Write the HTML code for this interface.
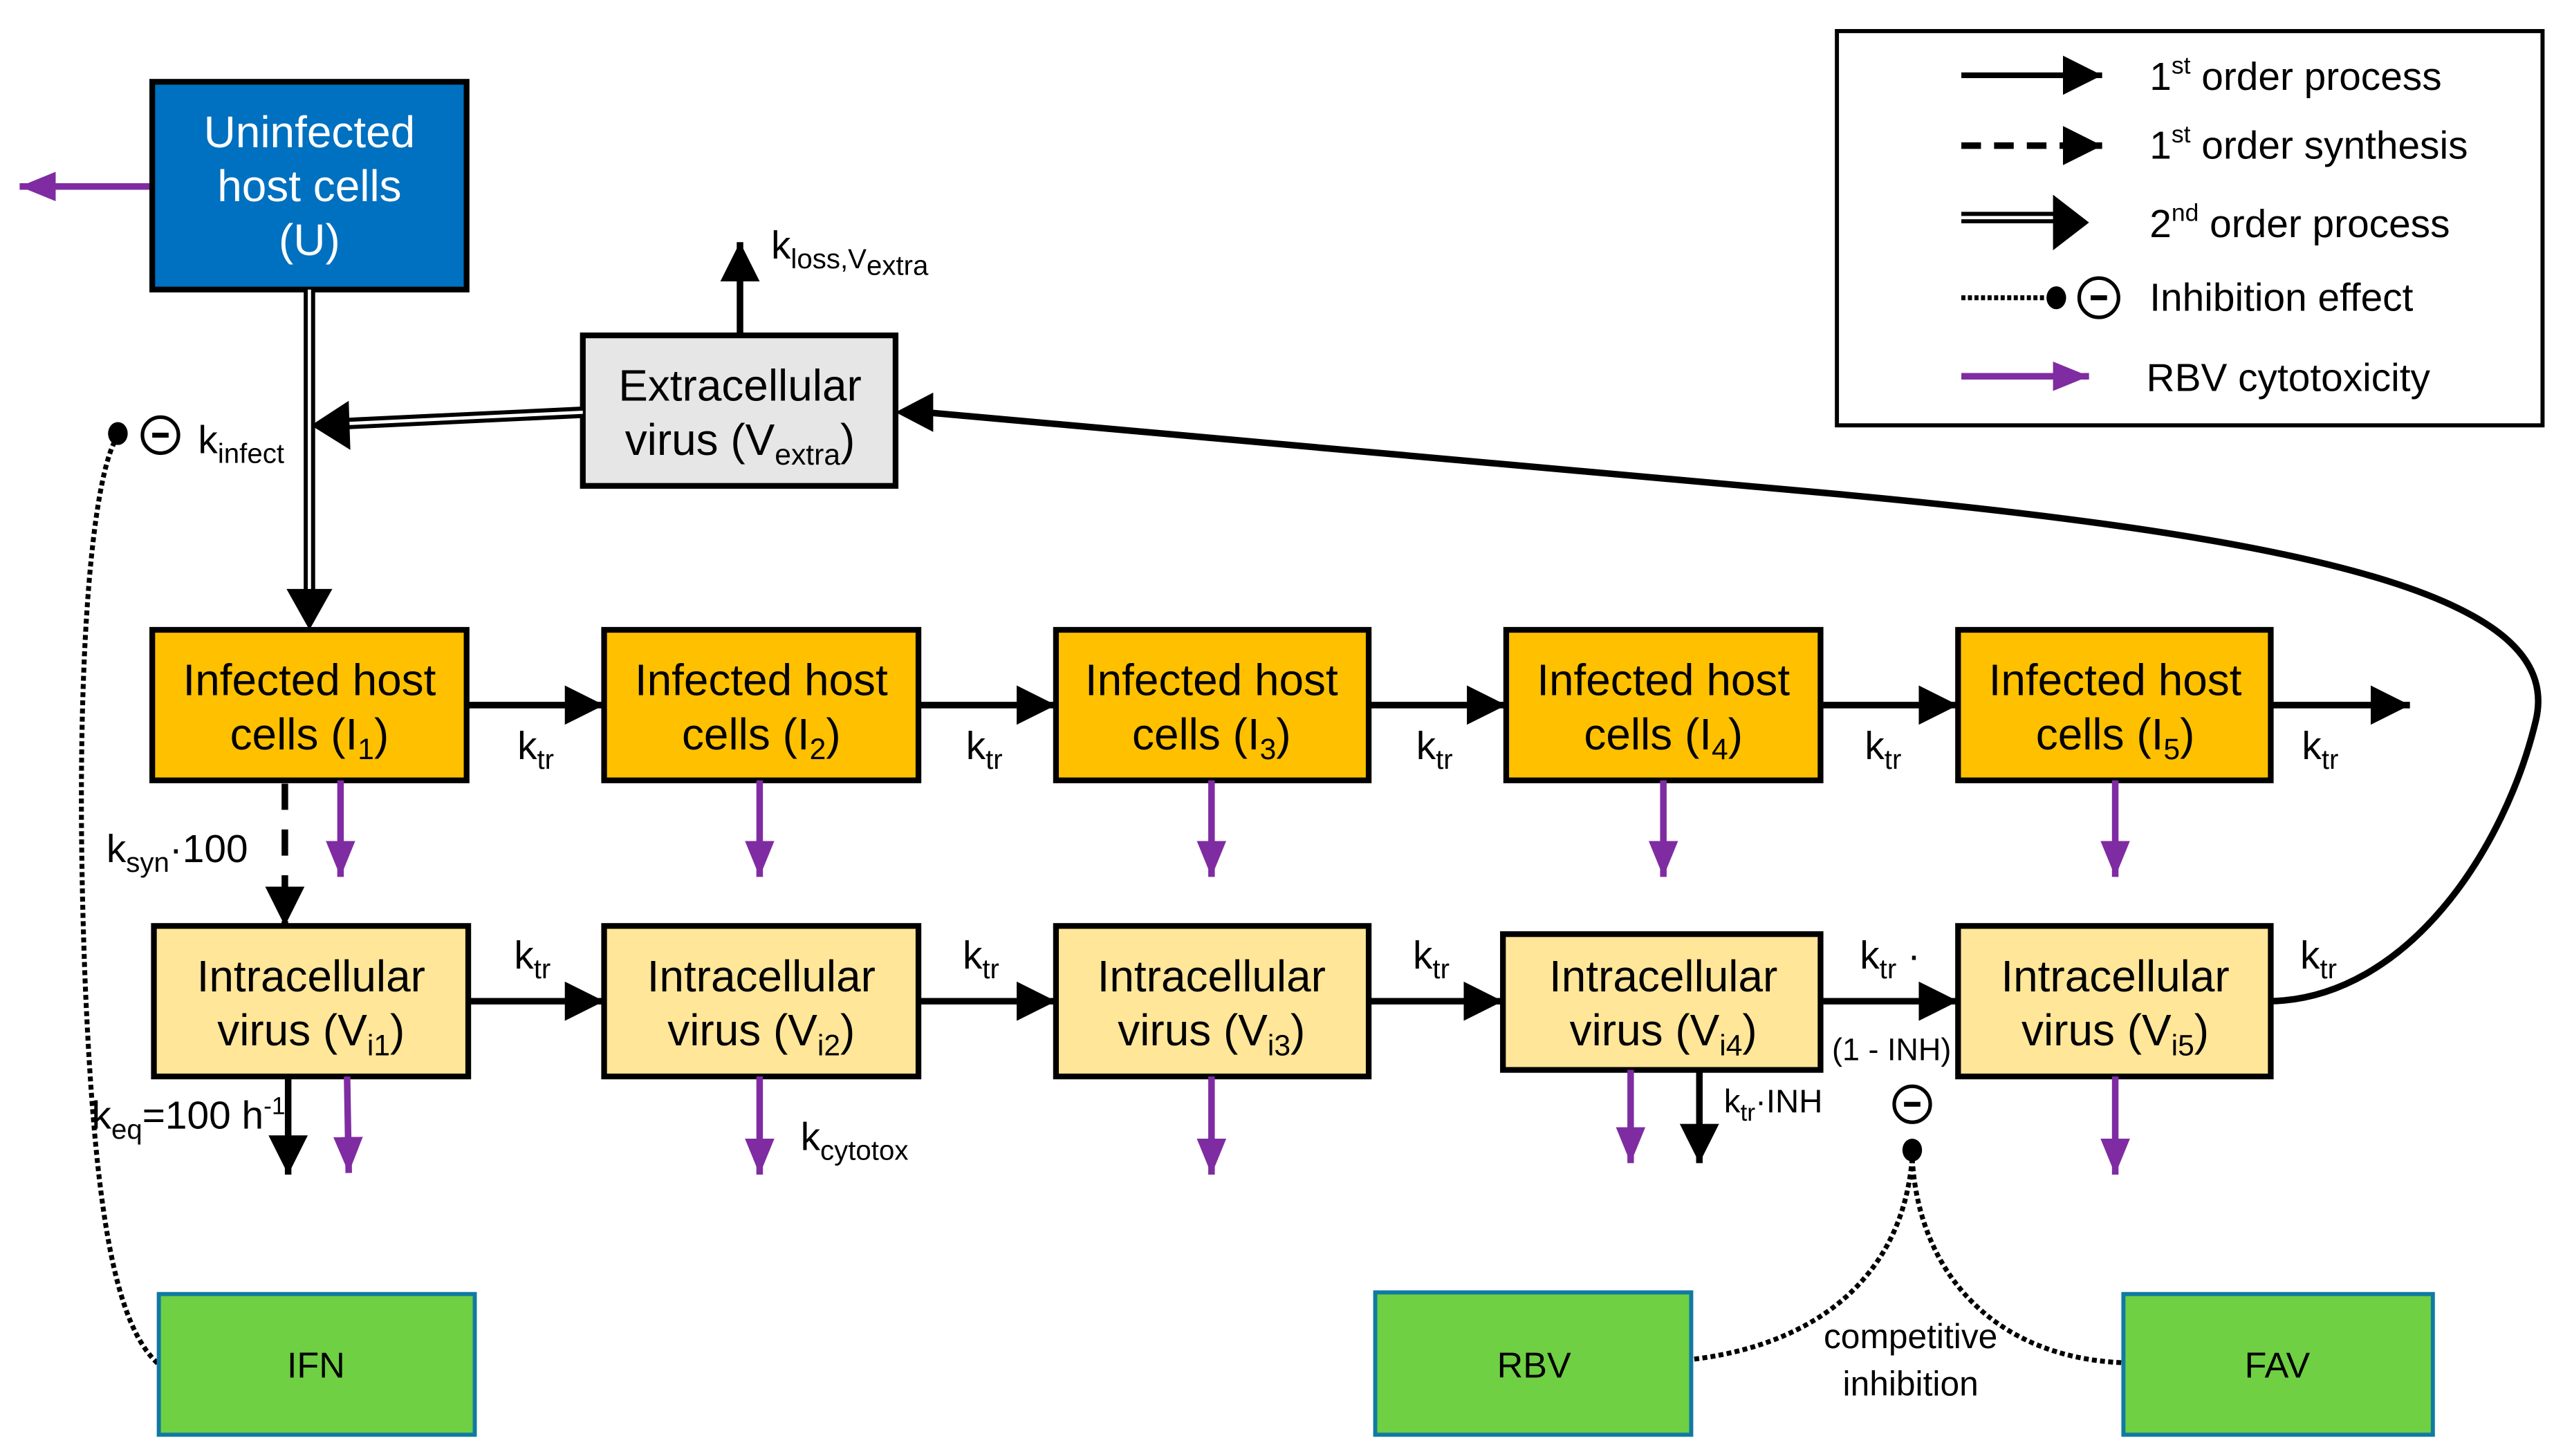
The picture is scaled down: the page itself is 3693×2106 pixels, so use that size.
<!DOCTYPE html>
<html><head><meta charset="utf-8"><style>
html,body{margin:0;padding:0;background:#fff;}
svg{display:block;}
text{font-family:"Liberation Sans Narrow","Liberation Sans",sans-serif;fill:#000;}
</style></head><body>
<svg width="3693" height="2106" viewBox="0 0 1560 890" preserveAspectRatio="none" xmlns="http://www.w3.org/2000/svg">
<defs>
<marker id="ab" markerUnits="userSpaceOnUse" markerWidth="26" markerHeight="24" refX="24" refY="12" orient="auto"><path d="M0,0 L24,12 L0,24 Z" fill="#000"/></marker>
<marker id="ap" markerUnits="userSpaceOnUse" markerWidth="24" markerHeight="20" refX="22" refY="10" orient="auto"><path d="M0,1 L22,10 L0,19 Z" fill="#7F2CA2"/></marker>
</defs>
<rect width="1560" height="890" fill="#fff"/>

<!-- Legend -->
<rect x="1122" y="19" width="431" height="241" fill="#fff" stroke="#000" stroke-width="2.5"/>
<line x1="1198" y1="46" x2="1284" y2="46" stroke="#000" stroke-width="3.5" marker-end="url(#ab)"/>
<line x1="1198" y1="89" x2="1284" y2="89" stroke="#000" stroke-width="4" stroke-dasharray="12,8" marker-end="url(#ab)"/>
<line x1="1198" y1="133" x2="1258" y2="133" stroke="#000" stroke-width="7"/>
<line x1="1198" y1="133" x2="1258" y2="133" stroke="#fff" stroke-width="2"/>
<path d="M1254,119 L1276,136 L1254,153 Z" fill="#000"/>
<line x1="1198" y1="182" x2="1250" y2="182" stroke="#000" stroke-width="3" stroke-dasharray="2.5,1.5"/>
<ellipse cx="1256" cy="182" rx="6" ry="7" fill="#000"/>
<ellipse cx="1282" cy="182" rx="12" ry="12" fill="none" stroke="#000" stroke-width="2.2"/>
<line x1="1277" y1="182" x2="1287" y2="182" stroke="#000" stroke-width="3"/>
<line x1="1198" y1="230" x2="1276" y2="230" stroke="#7F2CA2" stroke-width="4" marker-end="url(#ap)"/>
<text x="1313" y="55" font-size="24">1<tspan font-size="15" dy="-10">st</tspan><tspan dy="10"> order process</tspan></text>
<text x="1313" y="97" font-size="24">1<tspan font-size="15" dy="-10">st</tspan><tspan dy="10"> order synthesis</tspan></text>
<text x="1313" y="145" font-size="24">2<tspan font-size="15" dy="-10">nd</tspan><tspan dy="10"> order process</tspan></text>
<text x="1313" y="190" font-size="24">Inhibition effect</text>
<text x="1311" y="239" font-size="24">RBV cytotoxicity</text>

<!-- Uninfected -->
<line x1="93" y1="114" x2="12" y2="114" stroke="#7F2CA2" stroke-width="4" marker-end="url(#ap)"/>
<rect x="93" y="50" width="192" height="127" fill="#0070C0" stroke="#000" stroke-width="3.5"/>
<text x="189" y="90" font-size="27" text-anchor="middle" style="fill:#fff">Uninfected</text>
<text x="189" y="123" font-size="27" text-anchor="middle" style="fill:#fff">host cells</text>
<text x="189" y="156" font-size="27" text-anchor="middle" style="fill:#fff">(U)</text>

<!-- Extracellular -->
<line x1="452" y1="205" x2="452" y2="148" stroke="#000" stroke-width="4" marker-end="url(#ab)"/>
<text x="471" y="158" font-size="24">k<tspan font-size="17" dy="6">loss,V</tspan><tspan font-size="17" dy="4">extra</tspan></text>
<rect x="356" y="205" width="191" height="92" fill="#E7E6E6" stroke="#000" stroke-width="3.5"/>
<text x="452" y="245" font-size="27" text-anchor="middle">Extracellular</text>
<text x="452" y="278" font-size="27" text-anchor="middle">virus (V<tspan font-size="18" dy="6">extra</tspan><tspan dy="-6">)</tspan></text>

<!-- double lines -->
<line x1="189" y1="177" x2="189" y2="362" stroke="#000" stroke-width="7"/>
<line x1="189" y1="177" x2="189" y2="362" stroke="#fff" stroke-width="2"/>
<path d="M175,360 L203,360 L189,385 Z" fill="#000"/>
<line x1="356" y1="252" x2="210" y2="259" stroke="#000" stroke-width="7"/>
<line x1="356" y1="252" x2="210" y2="259" stroke="#fff" stroke-width="2"/>
<path d="M213,245 L214,275 L190,260 Z" fill="#000"/>
<text x="121" y="277" font-size="24">k<tspan font-size="17" dy="6">infect</tspan></text>
<circle cx="98" cy="266" r="11" fill="none" stroke="#000" stroke-width="2.2"/>
<line x1="93" y1="266" x2="103" y2="266" stroke="#000" stroke-width="3"/>
<ellipse cx="72" cy="265" rx="6" ry="7" fill="#000"/>
<path d="M70,270 C55,300 45,420 52,600 C58,740 70,810 97,834" fill="none" stroke="#000" stroke-width="3" stroke-dasharray="3,2"/>

<!-- Infected row -->
<g stroke="#000" stroke-width="3.5" fill="#FFC000">
<rect x="93" y="385" width="192" height="92"/>
<rect x="369" y="385" width="192" height="92"/>
<rect x="645" y="385" width="191" height="92"/>
<rect x="920" y="385" width="192" height="92"/>
<rect x="1196" y="385" width="191" height="92"/>
</g>
<g font-size="27" text-anchor="middle">
<text x="189" y="425">Infected host</text><text x="189" y="458">cells (I<tspan font-size="18" dy="6">1</tspan><tspan dy="-6">)</tspan></text>
<text x="465" y="425">Infected host</text><text x="465" y="458">cells (I<tspan font-size="18" dy="6">2</tspan><tspan dy="-6">)</tspan></text>
<text x="740" y="425">Infected host</text><text x="740" y="458">cells (I<tspan font-size="18" dy="6">3</tspan><tspan dy="-6">)</tspan></text>
<text x="1016" y="425">Infected host</text><text x="1016" y="458">cells (I<tspan font-size="18" dy="6">4</tspan><tspan dy="-6">)</tspan></text>
<text x="1292" y="425">Infected host</text><text x="1292" y="458">cells (I<tspan font-size="18" dy="6">5</tspan><tspan dy="-6">)</tspan></text>
</g>
<g stroke="#000" stroke-width="4">
<line x1="285" y1="431" x2="369" y2="431" marker-end="url(#ab)"/>
<line x1="561" y1="431" x2="645" y2="431" marker-end="url(#ab)"/>
<line x1="836" y1="431" x2="920" y2="431" marker-end="url(#ab)"/>
<line x1="1112" y1="431" x2="1196" y2="431" marker-end="url(#ab)"/>
<line x1="1387" y1="431" x2="1472" y2="431" marker-end="url(#ab)"/>
</g>
<g font-size="24">
<text x="316" y="464">k<tspan font-size="17" dy="6">tr</tspan></text>
<text x="590" y="464">k<tspan font-size="17" dy="6">tr</tspan></text>
<text x="865" y="464">k<tspan font-size="17" dy="6">tr</tspan></text>
<text x="1139" y="464">k<tspan font-size="17" dy="6">tr</tspan></text>
<text x="1406" y="464">k<tspan font-size="17" dy="6">tr</tspan></text>
</g>
<g stroke="#7F2CA2" stroke-width="4">
<line x1="208" y1="477" x2="208" y2="536" marker-end="url(#ap)"/>
<line x1="464" y1="477" x2="464" y2="536" marker-end="url(#ap)"/>
<line x1="740" y1="477" x2="740" y2="536" marker-end="url(#ap)"/>
<line x1="1016" y1="477" x2="1016" y2="536" marker-end="url(#ap)"/>
<line x1="1292" y1="477" x2="1292" y2="536" marker-end="url(#ap)"/>
</g>
<!-- dashed synthesis -->
<line x1="174" y1="479" x2="174" y2="566" stroke="#000" stroke-width="4" stroke-dasharray="16,12" marker-end="url(#ab)"/>
<text x="65" y="527" font-size="24">k<tspan font-size="17" dy="6">syn</tspan><tspan dy="-6">·100</tspan></text>

<!-- Intracellular row -->
<g stroke="#000" stroke-width="3.5" fill="#FFE699">
<rect x="94" y="566" width="192" height="92"/>
<rect x="369" y="566" width="192" height="92"/>
<rect x="645" y="566" width="191" height="92"/>
<rect x="918" y="571" width="194" height="83"/>
<rect x="1196" y="566" width="191" height="92"/>
</g>
<g font-size="27" text-anchor="middle">
<text x="190" y="606">Intracellular</text><text x="190" y="639">virus (V<tspan font-size="18" dy="6">i1</tspan><tspan dy="-6">)</tspan></text>
<text x="465" y="606">Intracellular</text><text x="465" y="639">virus (V<tspan font-size="18" dy="6">i2</tspan><tspan dy="-6">)</tspan></text>
<text x="740" y="606">Intracellular</text><text x="740" y="639">virus (V<tspan font-size="18" dy="6">i3</tspan><tspan dy="-6">)</tspan></text>
<text x="1016" y="606">Intracellular</text><text x="1016" y="639">virus (V<tspan font-size="18" dy="6">i4</tspan><tspan dy="-6">)</tspan></text>
<text x="1292" y="606">Intracellular</text><text x="1292" y="639">virus (V<tspan font-size="18" dy="6">i5</tspan><tspan dy="-6">)</tspan></text>
</g>
<g stroke="#000" stroke-width="4">
<line x1="286" y1="612" x2="369" y2="612" marker-end="url(#ab)"/>
<line x1="561" y1="612" x2="645" y2="612" marker-end="url(#ab)"/>
<line x1="836" y1="612" x2="918" y2="612" marker-end="url(#ab)"/>
<line x1="1112" y1="612" x2="1196" y2="612" marker-end="url(#ab)"/>
<line x1="176" y1="658" x2="176" y2="718" marker-end="url(#ab)"/>
<line x1="1038" y1="654" x2="1038" y2="711" marker-end="url(#ab)"/>
</g>
<g font-size="24">
<text x="314" y="592">k<tspan font-size="17" dy="6">tr</tspan></text>
<text x="588" y="592">k<tspan font-size="17" dy="6">tr</tspan></text>
<text x="863" y="592">k<tspan font-size="17" dy="6">tr</tspan></text>
<text x="1136" y="592">k<tspan font-size="17" dy="6">tr</tspan><tspan dy="-6"> ·</tspan></text>
<text x="1405" y="592">k<tspan font-size="17" dy="6">tr</tspan></text>
<text x="1119" y="648" font-size="19">(1 - INH)</text>
<text x="56" y="690">k<tspan font-size="17" dy="6">eq</tspan><tspan dy="-6">=100 h</tspan><tspan font-size="15" dy="-9">-1</tspan></text>
<text x="489" y="703">k<tspan font-size="17" dy="6">cytotox</tspan></text>
<text x="1053" y="680" font-size="20">k<tspan font-size="15" dy="5">tr</tspan><tspan dy="-5">·INH</tspan></text>
</g>
<g stroke="#7F2CA2" stroke-width="4">
<line x1="212" y1="658" x2="213" y2="717" marker-end="url(#ap)"/>
<line x1="464" y1="658" x2="464" y2="718" marker-end="url(#ap)"/>
<line x1="740" y1="658" x2="740" y2="718" marker-end="url(#ap)"/>
<line x1="996" y1="654" x2="996" y2="711" marker-end="url(#ap)"/>
<line x1="1292" y1="658" x2="1292" y2="718" marker-end="url(#ap)"/>
</g>

<!-- feedback curve -->
<path d="M1387,612 C1470,610 1530,520 1549,440 C1565,370 1440,330 1100,300 L565,252" fill="none" stroke="#000" stroke-width="4"/>
<path d="M570,240 L570,264 L547,252 Z" fill="#000"/>

<!-- inhibition at V4->V5 -->
<circle cx="1168" cy="675" r="11" fill="none" stroke="#000" stroke-width="2.2"/>
<line x1="1163" y1="675" x2="1173" y2="675" stroke="#000" stroke-width="3"/>
<ellipse cx="1168" cy="703" rx="6" ry="7" fill="#000"/>
<path d="M1168,708 C1162,780 1110,822 1033,831" fill="none" stroke="#000" stroke-width="3" stroke-dasharray="3,2"/>
<path d="M1168,708 C1172,780 1220,830 1297,833" fill="none" stroke="#000" stroke-width="3" stroke-dasharray="3,2"/>
<text x="1167" y="824" font-size="21" text-anchor="middle">competitive</text>
<text x="1167" y="853" font-size="21" text-anchor="middle">inhibition</text>

<!-- drugs -->
<g fill="#6FD043" stroke="#107AA3" stroke-width="2.5">
<rect x="97" y="791" width="193" height="86"/>
<rect x="840" y="790" width="193" height="87"/>
<rect x="1297" y="791" width="189" height="86"/>
</g>
<g font-size="22" text-anchor="middle">
<text x="193" y="842">IFN</text>
<text x="937" y="842">RBV</text>
<text x="1391" y="842">FAV</text>
</g>
</svg>
</body></html>
